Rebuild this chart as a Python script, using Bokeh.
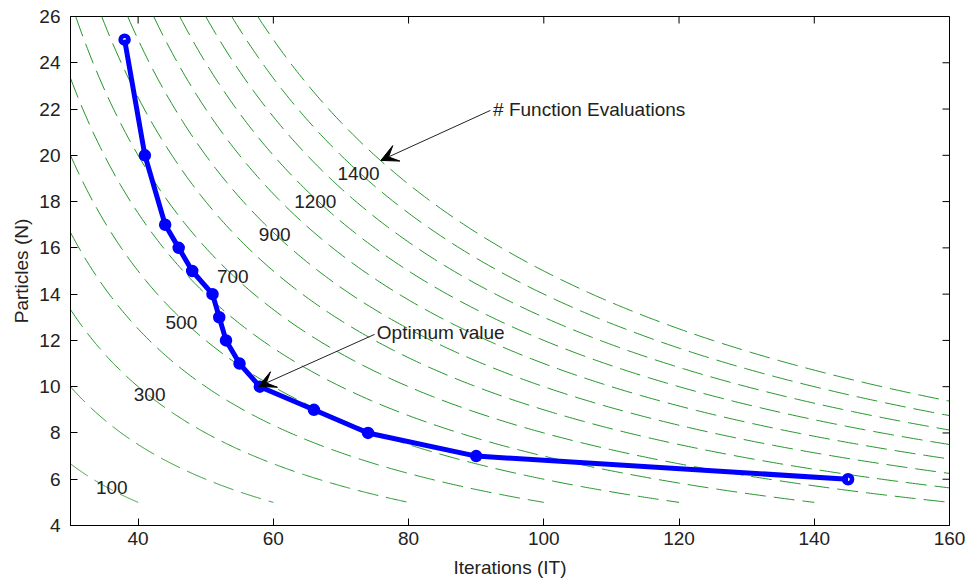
import numpy as np
from bokeh.plotting import figure
from bokeh.models import Range1d, FixedTicker, Arrow, VeeHead, Label, ColumnDataSource
from bokeh.embed import file_html
from bokeh.resources import INLINE

# ---- data ----
iterations = [38, 41, 44, 46, 48, 51, 52, 53, 55, 58, 66, 74, 90, 145]
particles = [25, 20, 17, 16, 15, 14, 13, 12, 11, 10, 9, 8, 7, 6]

# contour levels of N*IT (function evaluations)
levels = [200, 300, 400, 500, 600, 700, 800, 900, 1000, 1100, 1200, 1300, 1400, 1500]
level_label_text = ["100", "300", "500", "700", "900", "1200", "1400"]
level_label_x = [36.1, 41.7, 46.4, 54.0, 60.2, 66.2, 72.6]
level_label_y = [5.65, 9.67, 12.78, 14.76, 16.58, 18.0, 19.22]

x_ticks = [40, 60, 80, 100, 120, 140, 160]
y_ticks = [4, 6, 8, 10, 12, 14, 16, 18, 20, 22, 24, 26]

X_MIN, X_MAX, Y_MIN, Y_MAX = 30, 160, 4, 26
N_FLOOR = 5

FONT = "Liberation Sans"
TXT = "#222222"

W, H = 968, 580
BL, BR, BT, BB = 70, 19, 16, 55
FRAME_W = W - BL - BR
FRAME_H = H - BT - BB
TICK_PX = 7

p = figure(width=W, height=H, x_range=Range1d(X_MIN, X_MAX), y_range=Range1d(Y_MIN, Y_MAX),
           output_backend="svg", toolbar_location=None,
           min_border_left=BL, min_border_right=BR, min_border_top=BT, min_border_bottom=BB)
p.xgrid.visible = False
p.ygrid.visible = False
p.outline_line_color = "black"
p.outline_line_width = 1
p.background_fill_color = "white"
p.border_fill_color = "white"

# contours
xs_list, ys_list = [], []
for c in levels:
    x0 = max(X_MIN, c / Y_MAX)
    x1 = min(X_MAX, c / N_FLOOR)
    xs = np.linspace(x0, x1, 300)
    xs_list.append(list(xs))
    ys_list.append(list(c / xs))
p.multi_line(xs_list, ys_list, line_color="#23962a", line_width=1, line_dash="21 8")

for t, x, y in zip(level_label_text, level_label_x, level_label_y):
    p.add_layout(Label(x=x, y=y, text=t, text_font=FONT, text_font_size="19px", text_color=TXT,
                       text_align="center", text_baseline="middle"))

# mirrored ticks on top and right edges of the box
dy = TICK_PX * (Y_MAX - Y_MIN) / FRAME_H
dx = TICK_PX * (X_MAX - X_MIN) / FRAME_W
p.segment(x0=x_ticks, y0=[Y_MAX] * len(x_ticks), x1=x_ticks, y1=[Y_MAX - dy] * len(x_ticks),
          line_color="black", line_width=1)
p.segment(x0=[X_MAX] * len(y_ticks), y0=y_ticks, x1=[X_MAX - dx] * len(y_ticks), y1=y_ticks,
          line_color="black", line_width=1)

# main curve
src = ColumnDataSource(dict(x=iterations, y=particles))
p.scatter("x", "y", source=src, marker="circle", size=8, fill_color="white",
          line_color="#0000ff", line_width=4.5)
p.line("x", "y", source=src, line_color="#0000ff", line_width=5)

# annotations
p.add_layout(Arrow(end=VeeHead(size=17, fill_color="black", line_color="black", line_width=1),
                   x_start=92.1, y_start=21.94, x_end=75.9, y_end=19.78,
                   line_color="#222222", line_width=1))
p.add_layout(Label(x=92.5, y=22.0, text="# Function Evaluations", text_font=FONT,
                   text_font_size="19px", text_color=TXT, text_baseline="middle"))
p.add_layout(Arrow(end=VeeHead(size=17, fill_color="black", line_color="black", line_width=1),
                   x_start=74.97, y_start=12.26, x_end=57.8, y_end=10.01,
                   line_color="#222222", line_width=1))
p.add_layout(Label(x=75.3, y=12.34, text="Optimum value", text_font=FONT,
                   text_font_size="19px", text_color=TXT, text_baseline="middle"))

# axes
for ax, ticks in ((p.xaxis[0], x_ticks), (p.yaxis[0], y_ticks)):
    ax.ticker = FixedTicker(ticks=ticks)
    ax.major_tick_in = TICK_PX
    ax.major_tick_out = 0
    ax.minor_tick_in = 0
    ax.minor_tick_out = 0
    ax.axis_line_color = "black"
    ax.major_tick_line_color = "black"
    ax.major_label_text_font = FONT
    ax.major_label_text_font_size = "19px"
    ax.major_label_text_color = TXT
    ax.axis_label_text_font = FONT
    ax.axis_label_text_font_size = "19px"
    ax.axis_label_text_font_style = "normal"
    ax.axis_label_text_color = TXT

p.xaxis.axis_label = "Iterations (IT)"
p.yaxis.axis_label = "Particles (N)"
p.xaxis.major_label_standoff = 6
p.xaxis.axis_label_standoff = 9
p.yaxis.major_label_standoff = 10
p.yaxis.axis_label_standoff = 4

open("out.html", "w").write(file_html(p, INLINE))
